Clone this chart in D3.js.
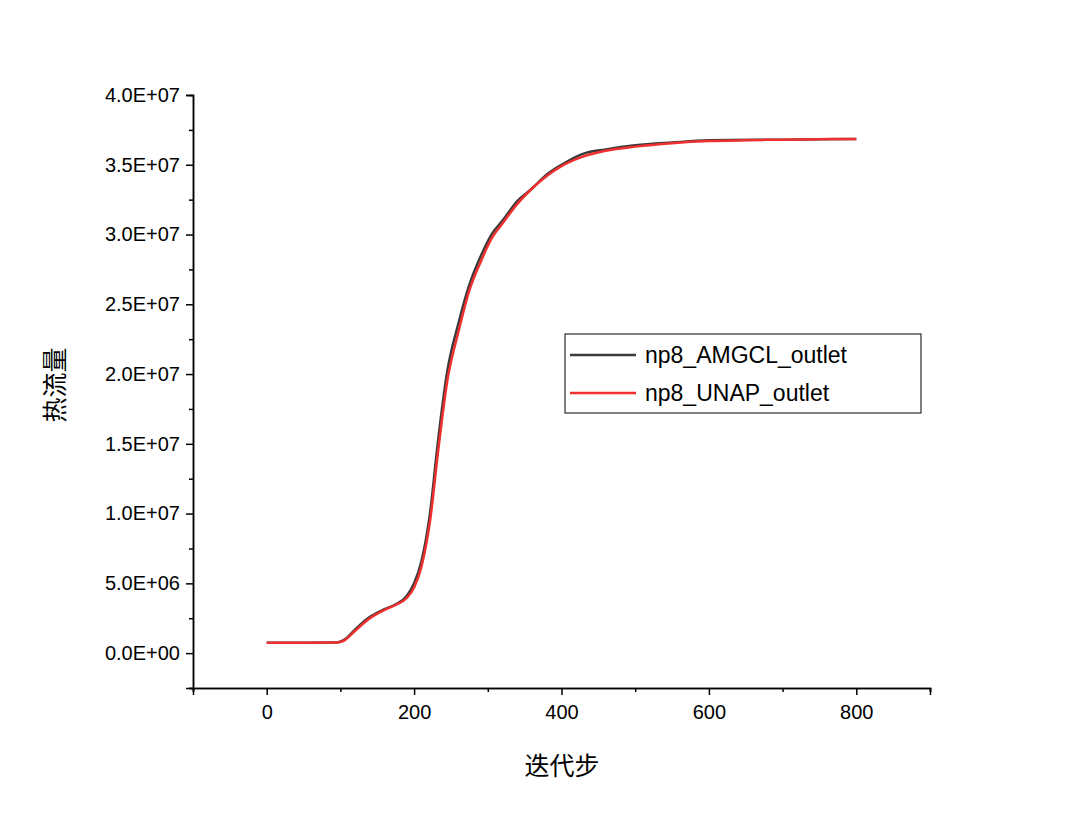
<!DOCTYPE html>
<html><head><meta charset="utf-8">
<script src="https://cdn.jsdelivr.net/npm/d3@7"></script>
<style>body{margin:0;background:#fff}</style></head>
<body><svg id="c" width="1080" height="826"></svg>
<script>
const xTicks=[0,200,400,600,800];
const yTicks=[0,5e6,1e7,1.5e7,2e7,2.5e7,3e7,3.5e7,4e7];
const amgclX=[0,50,95,105,120,140,160,175,190,200,210,222,232,245,260,275,290,305,320,340,360,380,400,430,460,500,550,600,700,800];
const amgclY=[0.75e6,0.75e6,0.76e6,0.95e6,1.7e6,2.6e6,3.15e6,3.5e6,4.1e6,5.0e6,6.6e6,1.02e7,1.5e7,2.02e7,2.36e7,2.64e7,2.84e7,3.0e7,3.1e7,3.24e7,3.33e7,3.43e7,3.5e7,3.58e7,3.61e7,3.64e7,3.66e7,3.675e7,3.68e7,3.685e7];
const unapX=[0,50,95,105,120,140,160,175,190,200,210,222,232,245,260,275,290,305,320,340,360,380,400,430,460,500,550,600,700,800];
const unapY=[0.75e6,0.75e6,0.76e6,0.9e6,1.6e6,2.5e6,3.1e6,3.45e6,3.95e6,4.7e6,6.2e6,9.6e6,1.42e7,1.95e7,2.3e7,2.6e7,2.8e7,2.97e7,3.08e7,3.22e7,3.33e7,3.42e7,3.49e7,3.56e7,3.6e7,3.63e7,3.655e7,3.67e7,3.68e7,3.685e7];
const names=["np8_AMGCL_outlet","np8_UNAP_outlet"];
const colors=["#3a3a3a","#f0302f"];

const svg=d3.select("#c");
const x=d3.scaleLinear().domain([-100,900]).range([193,930]);
const y=d3.scaleLinear().domain([-2.5e6,4e7]).range([688,95]);
const fmt=v=>{if(v===0)return "0.0E+00";const e=Math.floor(Math.log10(v));return (v/Math.pow(10,e)).toFixed(1)+"E+"+String(e).padStart(2,"0");};

svg.append("g").attr("transform","translate(0,688)").call(d3.axisBottom(x).tickValues(xTicks).tickSize(7).tickPadding(10));
svg.append("g").attr("transform","translate(0,688)").call(d3.axisBottom(x).tickValues(d3.range(-100,901,100).filter(v=>!xTicks.includes(v))).tickSize(4).tickFormat(""));
svg.append("g").attr("transform","translate(193,0)").call(d3.axisLeft(y).tickValues(yTicks).tickFormat(fmt).tickSize(7).tickPadding(6));
svg.append("g").attr("transform","translate(193,0)").call(d3.axisLeft(y).tickValues(d3.range(-2.5e6,4e7,5e6)).tickSize(4).tickFormat(""));
svg.selectAll(".domain,.tick line").attr("stroke","#000").attr("stroke-width",1.5);
svg.selectAll(".tick text").style("font-family","Arial, 'Liberation Sans', sans-serif").style("font-size","20px").attr("fill","#000");

const line=d3.line().curve(d3.curveMonotoneX);
[[amgclX,amgclY],[unapX,unapY]].forEach((s,i)=>{
  svg.append("path").attr("d",line(s[0].map((v,j)=>[x(v),y(s[1][j])]))).attr("fill","none").attr("stroke",colors[i]).attr("stroke-width",2.5);
});

svg.append("text").attr("transform","translate(64,385) rotate(-90)").attr("text-anchor","middle")
 .style("font-family","'Noto Sans CJK SC'").style("font-size","25px").text("热流量");
svg.append("text").attr("x",562).attr("y",775).attr("text-anchor","middle")
 .style("font-family","'Noto Sans CJK SC'").style("font-size","25px").text("迭代步");

const lg=svg.append("g");
lg.append("rect").attr("x",565).attr("y",334).attr("width",356).attr("height",79).attr("fill","#fff").attr("stroke","#000").attr("stroke-width",1);
names.forEach((n,i)=>{
  const yy=355+i*38;
  lg.append("line").attr("x1",570).attr("x2",636).attr("y1",yy).attr("y2",yy).attr("stroke",colors[i]).attr("stroke-width",2.5);
  lg.append("text").attr("x",645).attr("y",yy+8).style("font-family","Arial, 'Liberation Sans', sans-serif").style("font-size","23px").text(n);
});
</script></body></html>
